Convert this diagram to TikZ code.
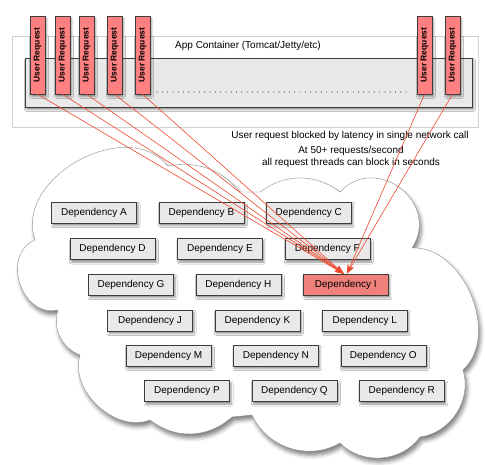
\documentclass[tikz,border=0pt]{standalone}
\usepackage{fontspec}
\setmainfont{Liberation Sans}
\usetikzlibrary{positioning,arrows.meta,shadows.blur}

\definecolor{reqred}{RGB}{255,128,128}
\definecolor{hotred}{RGB}{240,128,122}
\definecolor{boxgray}{RGB}{233,233,233}
\definecolor{edgegray}{RGB}{60,60,60}
\definecolor{linered}{RGB}{240,72,45}

\begin{document}
\begin{tikzpicture}[
    x=1pt, y=-1pt,
    node distance=22pt,
    softshadow/.style={blur shadow={shadow xshift=1.5pt, shadow yshift=-2.5pt, shadow blur radius=2pt, shadow opacity=45}},
    request/.style={rectangle, draw=edgegray, fill=reqred, minimum width=15pt, minimum height=78pt, inner sep=0pt, font=\fontsize{8.5}{9}\selectfont\bfseries, softshadow},
    dep/.style={rectangle, draw=edgegray, fill=boxgray, minimum width=85pt, minimum height=21pt, inner sep=0pt, font=\fontsize{10}{12}\selectfont, softshadow},
    note/.style={font=\fontsize{10}{12}\selectfont, align=center},
    blocked/.style={draw=linered, line width=0.6pt, -{Stealth[length=9pt,width=6pt]}}
]
    \useasboundingbox (0,0) rectangle (485,465);

    % app container
    \node[rectangle, draw=black!18, fill=white, minimum width=466pt, minimum height=91pt, inner sep=0pt] (container) at (245,81.5) {};
    \node[note] (applabel) at (248,46) {App Container (Tomcat/Jetty/etc)};
    \node[rectangle, draw=edgegray, fill=boxgray, minimum width=447pt, minimum height=49pt, inner sep=0pt, softshadow] (pool) at (248.5,82.5) {};
    \coordinate (dotsL) at (157,92);
    \coordinate (dotsR) at (408,92);
    \draw[edgegray, line width=1.2pt, line cap=round, dash pattern=on 0pt off 5.3pt] (dotsL) -- (dotsR);

    \node[request] (req1) at (37.5,55) {\rotatebox{90}{User Request}};
    \node[request] (req2) at (62.5,55) {\rotatebox{90}{User Request}};
    \node[request] (req3) at (86.5,55) {\rotatebox{90}{User Request}};
    \node[request] (req4) at (114.5,55) {\rotatebox{90}{User Request}};
    \node[request] (req5) at (142.5,55) {\rotatebox{90}{User Request}};
    \node[request] (req6) at (424.5,55) {\rotatebox{90}{User Request}};
    \node[request] (req7) at (452.5,55) {\rotatebox{90}{User Request}};

    \node[note] (latency) at (350,136) {User request blocked by latency in single network call};
    \node[note] (rate) at (351,157) {At 50+ requests/second\\all request threads can block in seconds};

    % dependency cloud
    \path[draw=black!45, fill=white, blur shadow={shadow xshift=2pt, shadow yshift=-4pt, shadow blur radius=4pt, shadow opacity=50}]
        (35,240) to[bend left=80, looseness=1.1] (168,166)
        to[bend left=30] (240,192) -- (260,192)
        to[bend left=37] (340,192)
        to[bend left=85, looseness=1.5] (412,248)
        to[bend left=70] (463,370)
        to[bend left=50] (420,437)
        to[bend left=50] (340,443)
        to[bend left=48] (252,415) -- (232,417)
        to[bend left=40] (150,420)
        to[bend left=64] (80,355)
        to[bend left=43] (58,310)
        to[bend left=85, looseness=1.3] (35,240) -- cycle;

    \node[dep] (depA) at (94,212.5) {Dependency A};
    \node[dep, right=of depA] (depB) {Dependency B};
    \node[dep, right=of depB] (depC) {Dependency C};
    \node[dep] (depD) at (112.5,249) {Dependency D};
    \node[dep, right=of depD] (depE) {Dependency E};
    \node[dep, right=of depE] (depF) {Dependency F};
    \node[dep] (depG) at (131,284.5) {Dependency G};
    \node[dep, right=of depG] (depH) {Dependency H};
    \node[dep, right=of depH, fill=hotred] (depI) {Dependency I};
    \node[dep] (depJ) at (150,320.5) {Dependency J};
    \node[dep, right=of depJ] (depK) {Dependency K};
    \node[dep, right=of depK] (depL) {Dependency L};
    \node[dep] (depM) at (168.5,355.5) {Dependency M};
    \node[dep, right=of depM] (depN) {Dependency N};
    \node[dep, right=of depN] (depO) {Dependency O};
    \node[dep] (depP) at (187,391) {Dependency P};
    \node[dep, right=of depP] (depQ) {Dependency Q};
    \node[dep, right=of depQ] (depR) {Dependency R};

    \draw[blocked] (req1.south) -- ([xshift=-2pt]depI.north);
    \draw[blocked] (req2.south) -- ([xshift=-2pt]depI.north);
    \draw[blocked] (req3.south) -- ([xshift=-2pt]depI.north);
    \draw[blocked] (req4.south) -- ([xshift=-2pt]depI.north);
    \draw[blocked] (req5.south) -- ([xshift=-2pt]depI.north);
    \draw[blocked] (req6.south) -- ([xshift=1pt]depI.north);
    \draw[blocked] (req7.south) -- ([xshift=1pt]depI.north);
\end{tikzpicture}
\end{document}
